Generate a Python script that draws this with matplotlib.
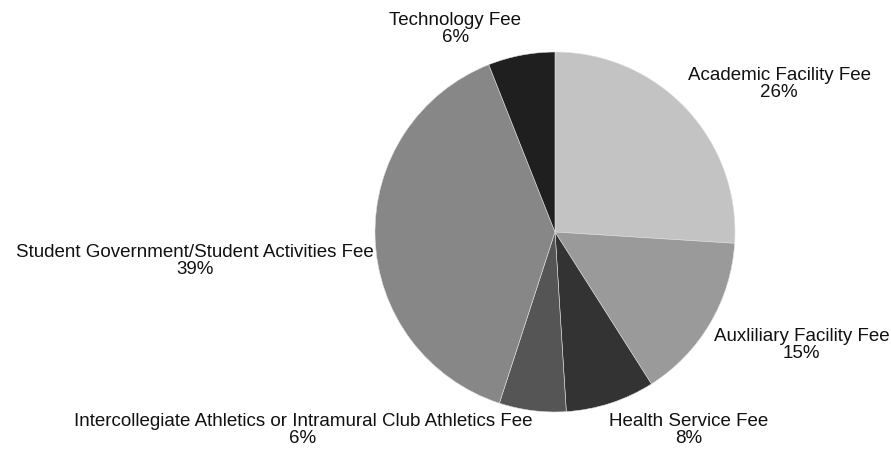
import matplotlib.pyplot as plt

# Fee categories and their shares (percent), clockwise from 12 o'clock
categories = [
    "Academic Facility Fee",
    "Auxliliary Facility Fee",
    "Health Service Fee",
    "Intercollegiate Athletics or Intramural Club Athletics Fee",
    "Student Government/Student Activities Fee",
    "Technology Fee",
]
shares = [26, 15, 8, 6, 39, 6]
colors = ["#c3c3c3", "#9a9a9a", "#333333", "#555555", "#878787", "#1f1f1f"]

# label centres in pie units (radius = 1)
label_pos = [
    (1.245, 0.82),
    (1.37, -0.63),
    (0.74, -1.10),
    (-1.40, -1.10),
    (-2.00, -0.16),
    (-0.555, 1.13),
]

plt.rcParams["font.family"] = ["Liberation Sans", "DejaVu Sans"]

fig = plt.figure(figsize=(8.91, 4.54), dpi=100)
# pie centred at (555, 232) px with radius 180 px
ax = fig.add_axes([(555 - 180) / 891, (454 - 232 - 180) / 454, 360 / 891, 360 / 454])
ax.pie(
    shares,
    colors=colors,
    startangle=90,
    counterclock=False,
    radius=1,
    wedgeprops={"edgecolor": "#e0e0e0", "linewidth": 0.4},
)
ax.set_xlim(-1, 1)
ax.set_ylim(-1, 1)
ax.set_aspect("equal")
ax.axis("off")

for name, val, (x, y) in zip(categories, shares, label_pos):
    ax.text(
        x, y, f"{name}\n{val}%",
        ha="center", va="center", fontsize=13.5, color="#111111",
        linespacing=1.0, clip_on=False,
    )

fig.savefig("out.png", dpi=100)
